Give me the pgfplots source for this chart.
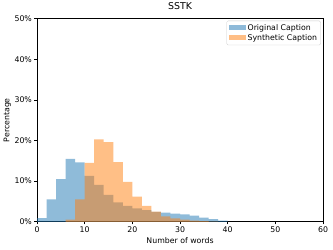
\documentclass[border=0pt]{standalone}
\usepackage{pgfplots}
\pgfplotsset{compat=1.18}
\usepackage{fontspec}
\setmainfont{DejaVu Sans}
\definecolor{tabblue}{HTML}{1F77B4}
\definecolor{taborange}{HTML}{FF7F0E}
\begin{document}
\begin{tikzpicture}
\begin{axis}[
  scale only axis,
  width=395.8pt, height=281.2pt,
  xmin=0, xmax=60, ymin=0, ymax=50,
  xtick={0,10,20,30,40,50,60},
  ytick={0,10,20,30,40,50},
  yticklabels={0\%,10\%,20\%,30\%,40\%,50\%},
  /pgf/number format/assume math mode=true,
  tick align=outside,
  major tick length=3.5pt,
  tick style={black, line width=0.8pt},
  axis line style={line width=0.8pt},
  xtick pos=bottom, ytick pos=left,
  ticklabel style={font=\fontsize{10.8}{12}\selectfont},
  title={SSTK},
  title style={font=\fontsize{13}{15}\selectfont, at={(0.5,1)}, anchor=south, yshift=3pt},
  xlabel={Number of words},
  ylabel={Percentage},
  ylabel shift=-2pt,
  label style={font=\fontsize{10.8}{12}\selectfont},
  legend style={at={(1,1)}, anchor=north east, xshift=-3pt, yshift=-3pt,
    draw=black!20, rounded corners=2pt, fill=white, fill opacity=0.8, text opacity=1,
    font=\fontsize{10.8}{12}\selectfont, row sep=0pt, inner sep=3pt},
  legend cell align=left,
  legend image code/.code={\fill[#1, draw=none, sharp corners] (0pt,-3pt) rectangle (24pt,4pt);},
]
\addplot[ybar interval, fill=tabblue, fill opacity=0.5, draw=none] coordinates {
(0,0.9) (2,5.5) (4,10.5) (6,15.5) (8,14.6) (10,11.3) (12,9.1) (14,6.6) (16,4.8) (18,3.9)
(20,3.3) (22,2.85) (24,2.45) (26,2.25) (28,2.0) (30,1.8) (32,1.5) (34,1.0) (36,0.65) (38,0.3) (40,0.3)
};
\addlegendentry{Original Caption}
\addplot[ybar interval, fill=taborange, fill opacity=0.5, draw=none] coordinates {
(6,0.5) (8,5.5) (10,14.5) (12,20.3) (14,19.6) (16,14.7) (18,9.8) (20,6.2) (22,3.9) (24,2.5)
(26,1.3) (28,0.85) (30,0.55) (32,0.3) (34,0.15) (36,0.05) (38,0.05)
};
\addlegendentry{Synthetic Caption}
\coordinate (ll) at (rel axis cs:0,0);
\coordinate (ur) at (rel axis cs:1,1);
\end{axis}
\path ([shift={(-51.2pt,-38.7pt)}]ll) rectangle ([shift={(13.8pt,24.9pt)}]ur);
\end{tikzpicture}
\end{document}
